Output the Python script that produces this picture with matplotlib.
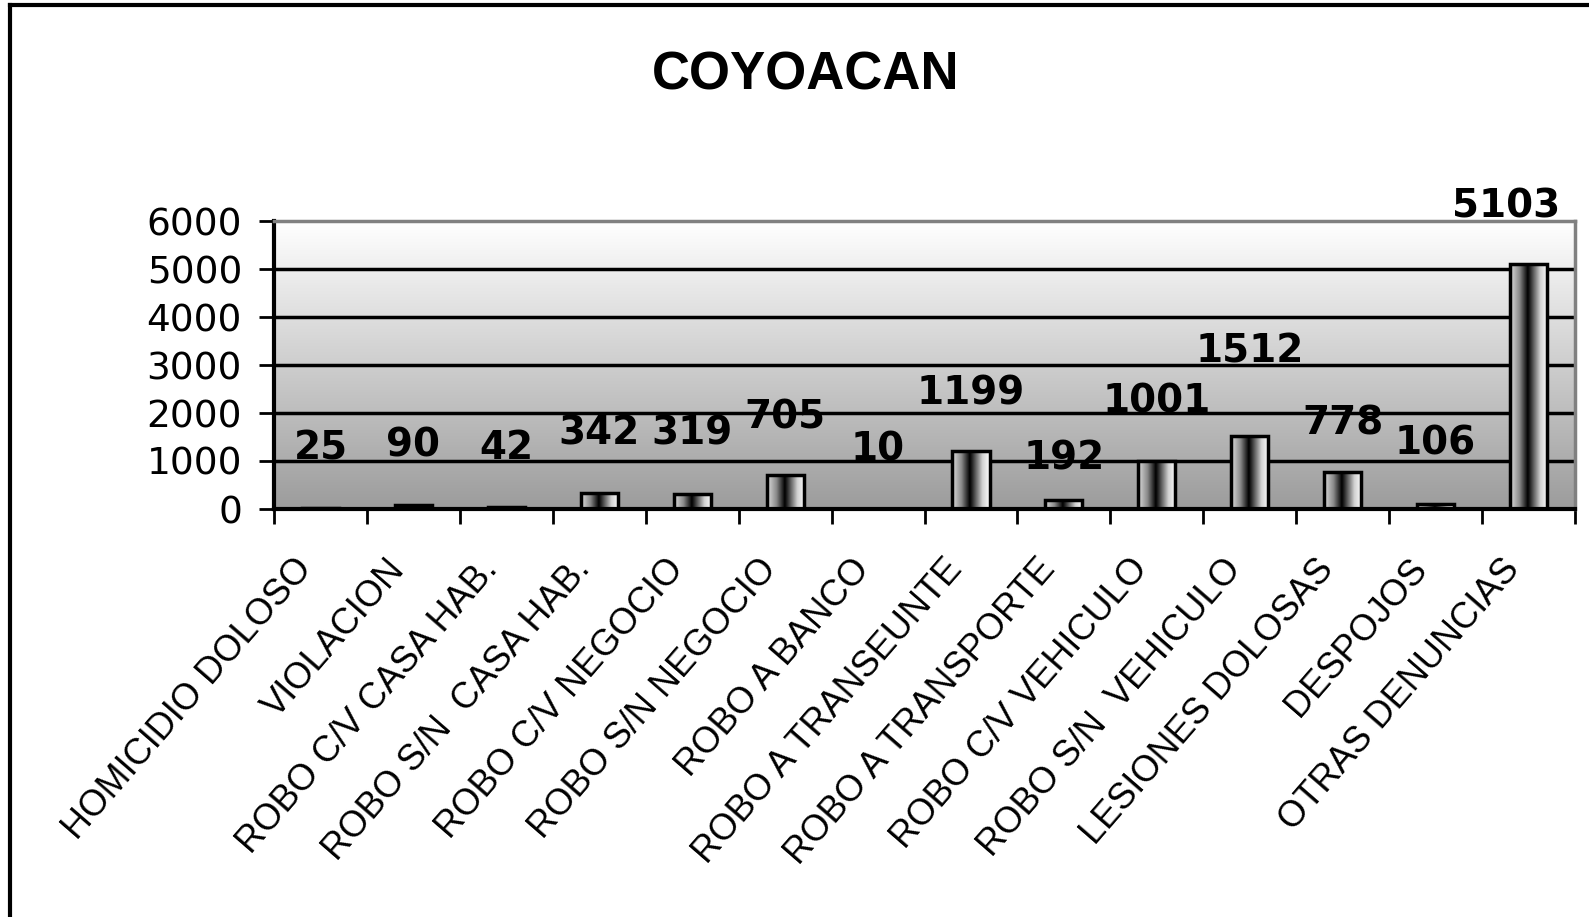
import numpy as np
import matplotlib
matplotlib.use("Agg")
import matplotlib.pyplot as plt
from matplotlib.colors import LinearSegmentedColormap
from matplotlib.lines import Line2D
from matplotlib.transforms import ScaledTranslation

# datos
categorias = ['HOMICIDIO DOLOSO', 'VIOLACION', 'ROBO C/V CASA HAB.', 'ROBO S/N  CASA HAB.',
              'ROBO C/V NEGOCIO', 'ROBO S/N NEGOCIO', 'ROBO A BANCO', 'ROBO A TRANSEUNTE',
              'ROBO A TRANSPORTE', 'ROBO C/V VEHICULO', 'ROBO S/N  VEHICULO',
              'LESIONES DOLOSAS', 'DESPOJOS', 'OTRAS DENUNCIAS']
valores = [25, 90, 42, 342, 319, 705, 10, 1199, 192, 1001, 1512, 778, 106, 5103]
y_ticks = [0, 1000, 2000, 3000, 4000, 5000, 6000]

# posicion de las etiquetas (px sobre la barra, px a la derecha)
etiq_dy = [59, 59, 59, 59, 60, 58, 59, 58, 41, 59, 85, 48, 60, 58]
etiq_dx = [0, 0, 0, 0, 0, 0, 0, 0, 0, 0, 0, 0, 0, -22]

W, H = 1589, 917
fig = plt.figure(figsize=(W / 100, H / 100), dpi=100)
fig.patch.set_facecolor('white')

ax = fig.add_axes([274 / W, 1 - 509 / H, (1575 - 274) / W, (509 - 221) / H])
n = len(categorias)
x = np.arange(n)

# fondo degradado del area de trazado
fondo = LinearSegmentedColormap.from_list('fondo', ['#9c9c9c', '#ffffff'])
ax.imshow(np.linspace(0, 1, 256)[:, None], extent=[-0.5, n - 0.5, 0, 6000],
          origin='lower', aspect='auto', cmap=fondo, zorder=0)

# lineas de la cuadricula
for t in y_ticks[1:-1]:
    ax.axhline(t, color='black', lw=2.5, zorder=1)

# barras con efecto cilindro
cil = LinearSegmentedColormap.from_list(
    'cil', [(0, '#e0e0e0'), (0.25, '#8a8a8a'), (0.47, '#000000'),
            (0.55, '#303030'), (0.8, '#d0d0d0'), (1, '#ffffff')])
ancho = 0.40
barras = ax.bar(x, valores, width=ancho, facecolor='none', edgecolor='black',
                linewidth=2.5, zorder=3)
for b in barras:
    img = ax.imshow(np.linspace(0, 1, 256)[None, :],
                    extent=[b.get_x(), b.get_x() + b.get_width(), 0, b.get_height()],
                    aspect='auto', cmap=cil, zorder=2)
    img.set_clip_path(b)

# etiquetas de datos
for i, v in enumerate(valores):
    ax.annotate(str(v), xy=(i, v), xytext=(etiq_dx[i] * 0.72, etiq_dy[i] * 0.72),
                textcoords='offset points', ha='center', va='center',
                fontsize=28, fontweight='bold', family='DejaVu Sans',
                annotation_clip=False, zorder=5)

ax.set_xlim(-0.5, n - 0.5)
ax.set_ylim(0, 6000)
ax.set_yticks(y_ticks)
ax.set_yticklabels([str(t) for t in y_ticks], fontsize=27, family='DejaVu Sans')
ax.tick_params(axis='y', length=11, width=2, pad=12, direction='out')

ax.set_xticks(x)
ax.set_xticklabels(categorias, rotation=49, ha='right', va='top',
                   rotation_mode='anchor', fontsize=26, family='Liberation Sans')
ax.tick_params(axis='x', which='major', length=0, pad=31)
ax.set_xticks(np.arange(n + 1) - 0.5, minor=True)
ax.tick_params(axis='x', which='minor', length=11, width=2, direction='out')
desplaza = ScaledTranslation(-0.28, 0, fig.dpi_scale_trans)
for lab in ax.get_xticklabels():
    lab.set_transform(lab.get_transform() + desplaza)

for s in ['left', 'bottom']:
    ax.spines[s].set_linewidth(3)
    ax.spines[s].set_color('black')
for s in ['top', 'right']:
    ax.spines[s].set_linewidth(2.5)
    ax.spines[s].set_color('#808080')

# titulo
fig.text(806 / W, 1 - 76 / H, 'COYOACAN', ha='center', va='center',
         fontsize=38, fontweight='bold', family='Liberation Sans')

# borde del grafico
fig.add_artist(Line2D([10 / W, 10 / W], [0, 1 - 5 / H], color='black', lw=3,
                      transform=fig.transFigure))
fig.add_artist(Line2D([10 / W, 1], [1 - 5 / H, 1 - 5 / H], color='black', lw=3,
                      transform=fig.transFigure))

fig.savefig('out.png', dpi=100)
